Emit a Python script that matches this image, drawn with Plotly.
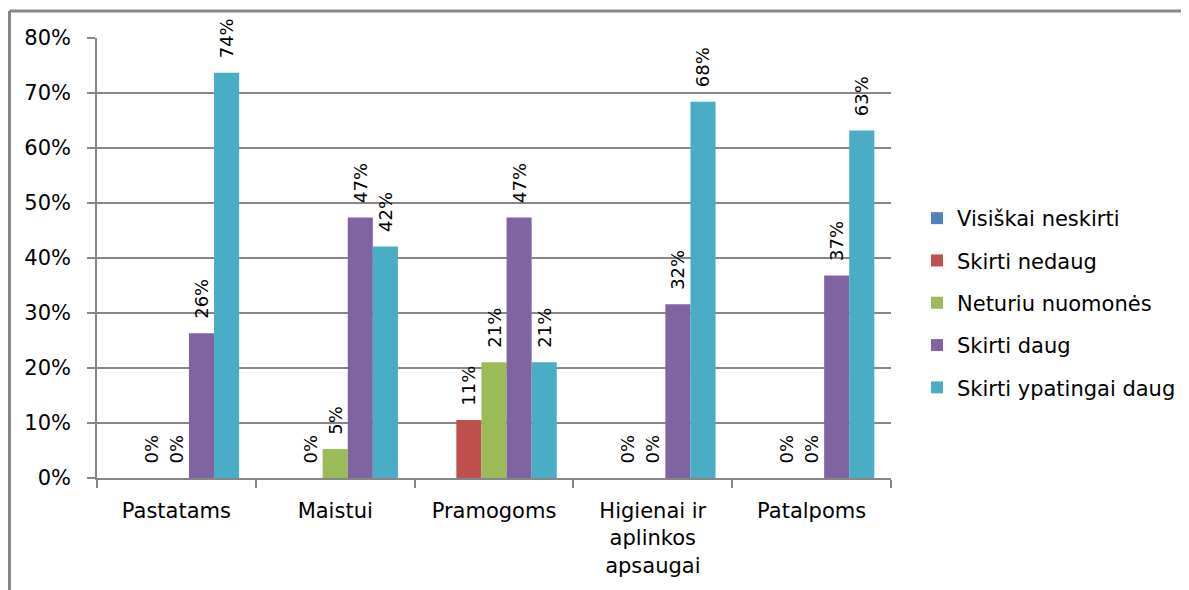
import plotly.graph_objects as go

categories = ["Pastatams", "Maistui", "Pramogoms", "Higienai ir<br>aplinkos<br>apsaugai", "Patalpoms"]
series_names = ["Visiškai neskirti", "Skirti nedaug", "Neturiu nuomonės", "Skirti daug", "Skirti ypatingai daug"]
visiskai_neskirti = [None, None, None, None, None]
skirti_nedaug = [0.0, 0.0, 0.1053, 0.0, 0.0]
neturiu_nuomones = [0.0, 0.0526, 0.2105, 0.0, 0.0]
skirti_daug = [0.2632, 0.4737, 0.4737, 0.3158, 0.3684]
skirti_ypatingai_daug = [0.7368, 0.4211, 0.2105, 0.6842, 0.6316]
colors = ["#4F81BD", "#C0504D", "#9BBB59", "#8064A2", "#4BACC6"]
y_tickvals = [0, 0.1, 0.2, 0.3, 0.4, 0.5, 0.6, 0.7, 0.8]

series_values = [visiskai_neskirti, skirti_nedaug, neturiu_nuomones, skirti_daug, skirti_ypatingai_daug]

FONT = "DejaVu Sans"
PAD = "\u00a0\u00a0"
fig = go.Figure()
for i, (name, vals, col) in enumerate(zip(series_names, series_values, colors)):
    texts = [("" if v is None else PAD + f"{round(v*100):.0f}%") for v in vals]
    fig.add_trace(go.Bar(
        x=categories, y=vals, name=name, marker_color=col, marker_line_width=0,
        text=texts, textposition="outside", textangle=-90, cliponaxis=False,
        constraintext="none", textfont=dict(family=FONT, size=18, color="#000000"),
        legendgroup=f"g{i}",
    ))

# page body has an 8px margin: offset all targets by 8px
OFF = 8
W, H = 1189, 590
ml = 97 - OFF
mt = 38 - OFF
plot_right = 891 - OFF
plot_bottom = 478 - OFF
mr = W - plot_right
mb = H - plot_bottom
pw, ph = W - ml - mr, H - mt - mb

fig.update_layout(
    width=W, height=H, autosize=False,
    margin=dict(l=ml, r=mr, t=mt, b=mb, pad=0, autoexpand=False),
    paper_bgcolor="white", plot_bgcolor="white",
    barmode="group", bargap=0.21, bargroupgap=0,
    font=dict(family=FONT, size=21, color="#000000"),
    showlegend=True,
    legend=dict(x=(917 - OFF - ml) / pw, xanchor="left", y=(plot_bottom - (303 - OFF)) / ph, yanchor="middle",
                font=dict(family=FONT, size=21, color="#000000"),
                traceorder="grouped", tracegroupgap=12, bgcolor="rgba(0,0,0,0)"),
)
fig.update_yaxes(range=[0, 0.8], tickvals=y_tickvals, tickformat=".0%",
                 showgrid=True, gridcolor="#868686", gridwidth=1.5,
                 showline=True, linecolor="#868686", linewidth=1.5,
                 ticks="outside", ticklen=8, tickcolor="#868686", tickwidth=1.5,
                 zeroline=False, tickfont=dict(family=FONT, size=21), ticklabelstandoff=12,
                 automargin=False)
fig.update_xaxes(showline=True, linecolor="#868686", linewidth=1.5,
                 ticks="outside", ticklen=8, tickcolor="#868686", tickwidth=1.5,
                 tickson="boundaries", showgrid=False, ticklabelstandoff=13,
                 tickfont=dict(family=FONT, size=21), automargin=False)

bx = (9.5 - OFF - ml) / pw
by = 1 + (mt - (11 - OFF)) / ph
fig.add_shape(type="line", xref="paper", yref="paper", x0=bx, x1=bx, y0=by, y1=-0.5,
              line=dict(color="#868686", width=3))
fig.add_shape(type="line", xref="paper", yref="paper", x0=bx, x1=(W - ml) / pw + 0.01, y0=by, y1=by,
              line=dict(color="#868686", width=3))

fig.write_html("out.html")
